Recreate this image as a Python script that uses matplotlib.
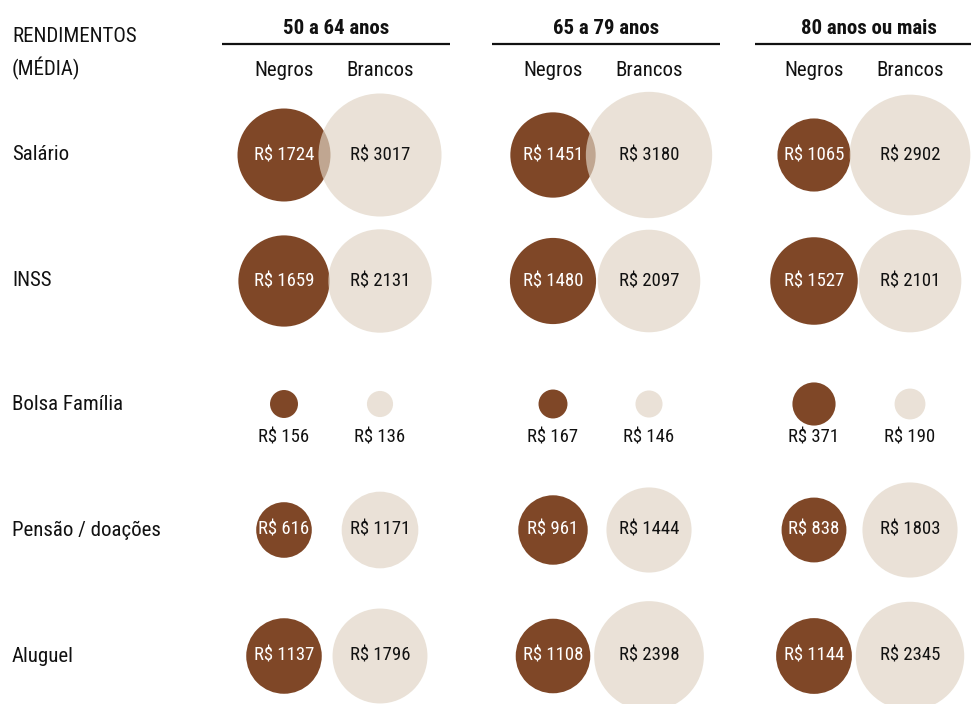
import matplotlib
matplotlib.use("Agg")
import matplotlib.pyplot as plt
from matplotlib.patches import Circle
import numpy as np

# ---------------- data ----------------
categories = ["Salário", "INSS", "Bolsa Família", "Pensão / doações", "Aluguel"]
age_groups = ["50 a 64 anos", "65 a 79 anos", "80 anos ou mais"]
race_labels = ["Negros", "Brancos"]

# values per category, one entry per age group
negros_salario = [1724, 1451, 1065]
negros_inss = [1659, 1480, 1527]
negros_bolsa = [156, 167, 371]
negros_pensao = [616, 961, 838]
negros_aluguel = [1137, 1108, 1144]

brancos_salario = [3017, 3180, 2902]
brancos_inss = [2131, 2097, 2101]
brancos_bolsa = [136, 146, 190]
brancos_pensao = [1171, 1444, 1803]
brancos_aluguel = [1796, 2398, 2345]

negros = [negros_salario, negros_inss, negros_bolsa, negros_pensao, negros_aluguel]
brancos = [brancos_salario, brancos_inss, brancos_bolsa, brancos_pensao, brancos_aluguel]

# ---------------- layout / style ----------------
plt.rcParams["font.family"] = ["Roboto Condensed", "Roboto", "DejaVu Sans"]

W, H = 971, 704
group_center = [336, 606, 869]
negros_x = [284, 553, 814]
brancos_x = [380, 649, 910]
row_y = [155, 281, 404, 530, 656]
small_row = 2  # labels shown below the circles
R_SCALE = 1.12  # px per sqrt(R$)

BROWN = "#7F4727"
BEIGE = "#E0D4C4"
BEIGE_ALPHA = 0.68
INK = "#111111"
LABEL_FS = 15
VALUE_FS = 13.5

fig = plt.figure(figsize=(W / 100, H / 100), dpi=100)
ax = fig.add_axes([0, 0, 1, 1])
ax.set_xlim(0, W)
ax.set_ylim(H, 0)
ax.axis("off")

# header
ax.text(12, 37, "RENDIMENTOS", fontsize=LABEL_FS, ha="left", va="center", color=INK)
ax.text(12, 68, "(MÉDIA)", fontsize=LABEL_FS, ha="left", va="center", color=INK)

for g, name in enumerate(age_groups):
    ax.text(group_center[g], 28, name, fontsize=LABEL_FS, fontweight="bold",
            ha="center", va="center", color=INK)
    ax.plot([group_center[g] - 114, group_center[g] + 114], [44, 44],
            color=INK, lw=1.6, solid_capstyle="butt")
    ax.text(negros_x[g], 70, race_labels[0], fontsize=LABEL_FS, ha="center", va="center", color=INK)
    ax.text(brancos_x[g], 70, race_labels[1], fontsize=LABEL_FS, ha="center", va="center", color=INK)

for i, cat in enumerate(categories):
    ax.text(12, row_y[i], cat, fontsize=LABEL_FS, ha="left", va="center", color=INK)
    for g in range(len(age_groups)):
        vn = negros[i][g]
        vb = brancos[i][g]
        rn = R_SCALE * np.sqrt(vn)
        rb = R_SCALE * np.sqrt(vb)
        ax.add_patch(Circle((negros_x[g], row_y[i]), rn, facecolor=BROWN, edgecolor="none", zorder=2))
        ax.add_patch(Circle((brancos_x[g], row_y[i]), rb, facecolor=BEIGE, alpha=BEIGE_ALPHA,
                            edgecolor="none", zorder=3))
        if i == small_row:
            ax.text(negros_x[g], row_y[i] + 33, f"R$ {vn}", fontsize=VALUE_FS, ha="center",
                    va="center", color=INK, zorder=5)
            ax.text(brancos_x[g], row_y[i] + 33, f"R$ {vb}", fontsize=VALUE_FS, ha="center",
                    va="center", color=INK, zorder=5)
        else:
            ax.text(negros_x[g], row_y[i], f"R$ {vn}", fontsize=VALUE_FS, ha="center",
                    va="center", color="white", zorder=5)
            ax.text(brancos_x[g], row_y[i], f"R$ {vb}", fontsize=VALUE_FS, ha="center",
                    va="center", color=INK, zorder=5)

fig.savefig("out.png", dpi=100, facecolor="white")
